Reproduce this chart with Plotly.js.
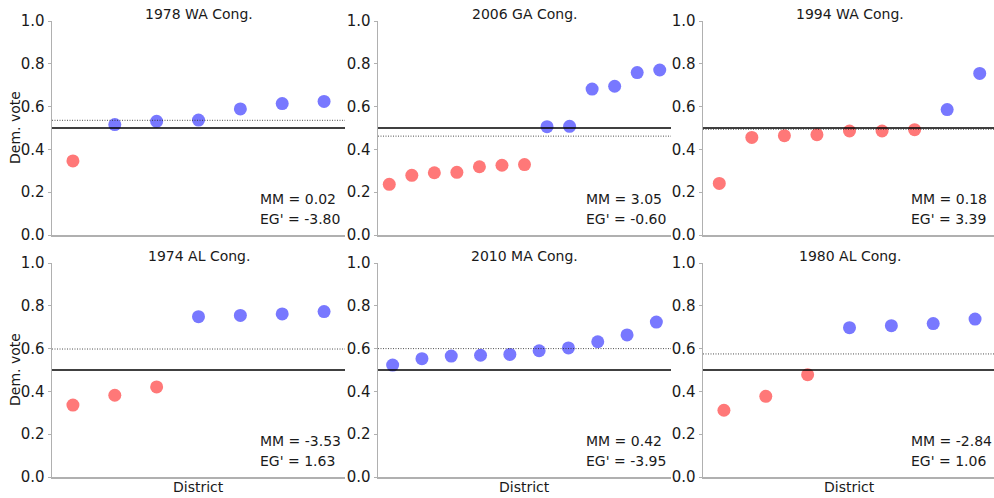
<!DOCTYPE html>
<html>
<head>
<meta charset="utf-8">
<script src="https://cdn.plot.ly/plotly-3.0.1.min.js"></script>
<style>html,body{margin:0;padding:0;background:#fff;}#chart{width:994px;height:498px;}</style>
</head>
<body>
<div id="chart"></div>
<script>
// ---- data ----
const titles = ["1978 WA Cong.", "2006 GA Cong.", "1994 WA Cong.", "1974 AL Cong.", "2010 MA Cong.", "1980 AL Cong."];
const vote1978WA = [0.346, 0.516, 0.531, 0.537, 0.589, 0.614, 0.624];
const vote2006GA = [0.237, 0.279, 0.291, 0.293, 0.319, 0.326, 0.329, 0.506, 0.508, 0.682, 0.695, 0.759, 0.771];
const vote1994WA = [0.241, 0.456, 0.464, 0.469, 0.486, 0.486, 0.492, 0.586, 0.755];
const vote1974AL = [0.336, 0.382, 0.421, 0.749, 0.755, 0.762, 0.773];
const vote2010MA = [0.523, 0.553, 0.565, 0.569, 0.573, 0.590, 0.603, 0.632, 0.664, 0.724];
const vote1980AL = [0.312, 0.377, 0.478, 0.698, 0.707, 0.717, 0.738];
const meanVote = [0.536, 0.462, 0.494, 0.598, 0.600, 0.575];
const mmValues = ["0.02", "3.05", "0.18", "-3.53", "0.42", "-2.84"];
const egValues = ["-3.80", "-0.60", "3.39", "1.63", "-3.95", "1.06"];
const yTicks = [0, 0.2, 0.4, 0.6, 0.8, 1.0];
const yTickText = ["0.0", "0.2", "0.4", "0.6", "0.8", "1.0"];
const series = [vote1978WA, vote2006GA, vote1994WA, vote1974AL, vote2010MA, vote1980AL];

// ---- layout geometry (pixels) ----
const W = 994, H = 498;
const colLeft = [52, 378, 703];
const panelW = 293;
const rowTop = [21, 263];
const panelH = 214;
const FONT = "DejaVu Sans, sans-serif";
const TXT = "#1a1a1a";
const BLUE = "#7878ff", RED = "#ff7878";

const traces = [];
const layout = {
  width: W, height: H,
  margin: {l: 0, r: 0, t: 0, b: 0},
  paper_bgcolor: "#fff", plot_bgcolor: "#fff",
  showlegend: false,
  font: {family: FONT, size: 14, color: TXT},
  shapes: [], annotations: []
};

series.forEach((vals, i) => {
  const r = Math.floor(i / 3), c = i % 3;
  const n = vals.length;
  const xs = vals.map((_, k) => k + 1);
  const left = colLeft[c];
  const right = Math.min(left + panelW, W);
  const visibleFrac = (right - left) / panelW;
  const ax = i === 0 ? "" : String(i + 1);
  const xName = "xaxis" + ax, yName = "yaxis" + ax;
  const xRef = "x" + ax, yRef = "y" + ax;

  traces.push({
    type: "scatter", mode: "markers",
    x: xs, y: vals, xaxis: xRef, yaxis: yRef,
    marker: {size: 13, color: vals.map(v => v > 0.5 ? BLUE : RED), line: {width: 0}},
    hoverinfo: "skip"
  });

  layout[xName] = {
    domain: [left / W, right / W],
    range: [0.5, 0.5 + n * visibleFrac],
    anchor: yRef,
    showgrid: false, zeroline: false,
    showticklabels: false, ticks: "",
    showline: true, linecolor: "#b0b0b0", linewidth: 1.5
  };
  const top = rowTop[r];
  layout[yName] = {
    domain: [1 - (top + panelH) / H, 1 - top / H],
    range: [0, 1],
    anchor: xRef,
    showgrid: false, zeroline: false,
    tickvals: yTicks, ticktext: yTickText,
    ticks: "outside", ticklen: 3, tickwidth: 1, tickcolor: "#b0b0b0",
    tickfont: {family: FONT, size: 15, color: TXT},
    showline: true, linecolor: "#b0b0b0", linewidth: 1.5
  };

  // reference lines
  layout.shapes.push({
    type: "line", xref: xRef + " domain", yref: yRef,
    x0: 0, x1: 1, y0: 0.5, y1: 0.5,
    line: {color: "#000", width: 1.3}
  });
  layout.shapes.push({
    type: "line", xref: xRef + " domain", yref: yRef,
    x0: 0, x1: 1, y0: meanVote[i], y1: meanVote[i],
    line: {color: "#222", width: 0.8, dash: "1px,1.5px"}
  });

  const cx = 0.5 * panelW / (right - left);
  // panel title
  layout.annotations.push({
    text: titles[i], xref: xRef + " domain", yref: yRef + " domain",
    x: cx, y: 1, yshift: 7,
    xanchor: "center", yanchor: "middle", showarrow: false,
    font: {family: FONT, size: 14, color: TXT}
  });
  // stats text
  const tx = 0.703 * panelW / (right - left);
  layout.annotations.push({
    text: "MM = " + mmValues[i], xref: xRef + " domain", yref: yRef + " domain",
    x: tx, y: 0.168, xanchor: "left", yanchor: "middle", showarrow: false,
    font: {family: FONT, size: 14, color: TXT}
  });
  layout.annotations.push({
    text: "EG' = " + egValues[i], xref: xRef + " domain", yref: yRef + " domain",
    x: tx, y: 0.075, xanchor: "left", yanchor: "middle", showarrow: false,
    font: {family: FONT, size: 14, color: TXT}
  });
  // axis labels
  if (c === 0) {
    layout.annotations.push({
      text: "Dem. vote", xref: "paper", yref: yRef + " domain",
      x: 15 / W, y: 0.5, xanchor: "center", yanchor: "middle",
      textangle: -90, showarrow: false,
      font: {family: FONT, size: 14, color: TXT}
    });
  }
  if (r === 1) {
    layout.annotations.push({
      text: "District", xref: xRef + " domain", yref: yRef + " domain",
      x: cx, y: 0, yshift: -10,
      xanchor: "center", yanchor: "middle", showarrow: false,
      font: {family: FONT, size: 14, color: TXT}
    });
  }
});

Plotly.newPlot("chart", traces, layout, {staticPlot: true, displayModeBar: false});
</script>
</body>
</html>
